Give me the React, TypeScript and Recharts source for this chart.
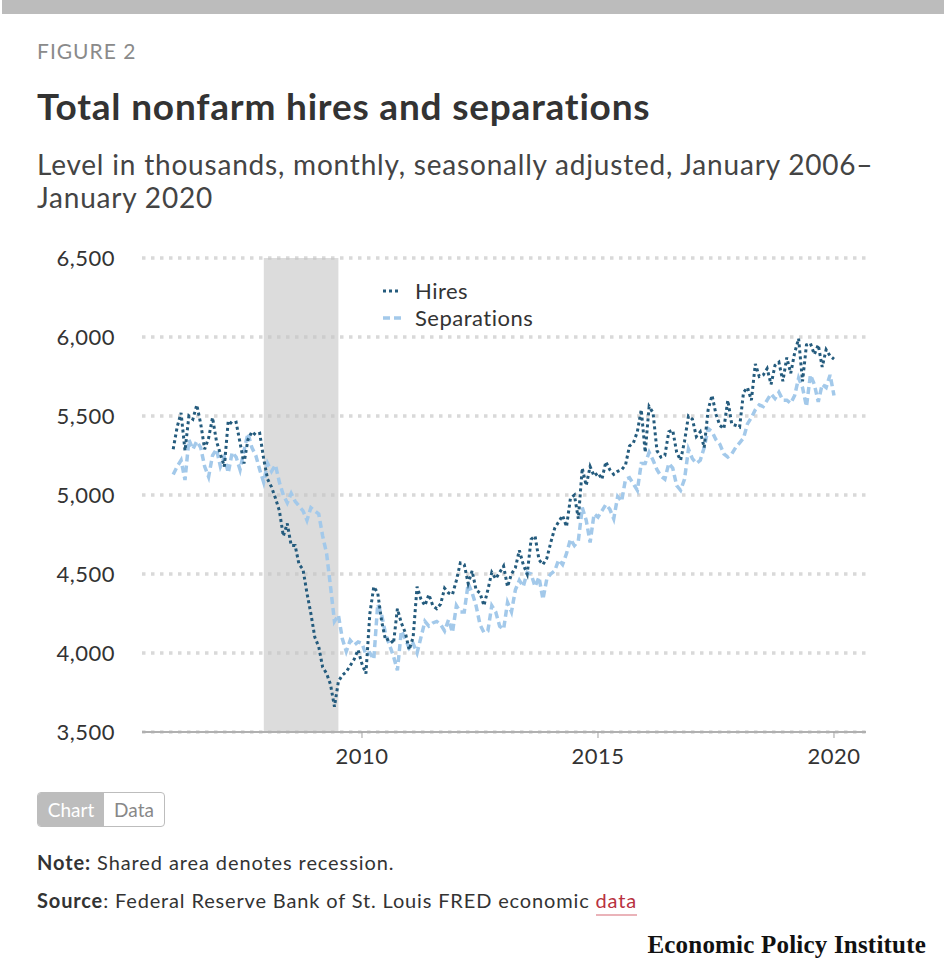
import React from "react";
import {
  LineChart,
  Line,
  XAxis,
  YAxis,
  CartesianGrid,
  ReferenceArea,
  Legend,
} from "recharts";

const FONT = "Lato, 'Open Sans', sans-serif";

// monthly, Jan 2006 .. Jan 2020, thousands
const START_YEAR = 2006;

const HIRES = [
  5290, 5430, 5520, 5280, 5500, 5480, 5570, 5450, 5290, 5360, 5490, 5340, // 2006
  5260, 5180, 5470, 5450, 5460, 5330, 5200, 5350, 5400, 5380, 5390, 5230, // 2007
  5100, 5050, 4980, 4900, 4740, 4820, 4680, 4680, 4560, 4530, 4380, 4250, // 2008
  4100, 4040, 3910, 3870, 3800, 3660, 3820, 3860, 3880, 3920, 3960, 4020, // 2009
  3930, 3870, 4250, 4420, 4380, 4200, 4080, 4090, 4060, 4280, 4190, 4130, // 2010
  4020, 4100, 4420, 4340, 4300, 4370, 4300, 4280, 4310, 4410, 4380, 4370, // 2011
  4460, 4570, 4560, 4440, 4520, 4400, 4380, 4300, 4400, 4510, 4470, 4510, // 2012
  4550, 4420, 4500, 4540, 4650, 4560, 4500, 4720, 4740, 4590, 4560, 4600, // 2013
  4700, 4790, 4830, 4870, 4800, 4980, 5000, 4850, 5170, 5060, 5180, 5120, // 2014
  5140, 5100, 5210, 5160, 5130, 5150, 5160, 5190, 5310, 5330, 5400, 5540, // 2015
  5270, 5560, 5520, 5280, 5240, 5250, 5400, 5410, 5270, 5220, 5340, 5500, // 2016
  5480, 5370, 5400, 5300, 5540, 5630, 5510, 5440, 5420, 5600, 5450, 5440, // 2017
  5430, 5650, 5680, 5600, 5830, 5750, 5760, 5800, 5700, 5820, 5840, 5720, // 2018
  5870, 5770, 5900, 5990, 5720, 5950, 5960, 5890, 5950, 5810, 5920, 5880, // 2019
  5860, // 2020
];

const SEPARATIONS = [
  5130, 5180, 5220, 5095, 5350, 5290, 5340, 5300, 5180, 5115, 5250, 5290, // 2006
  5180, 5240, 5140, 5270, 5240, 5160, 5280, 5390, 5300, 5250, 5160, 5080, // 2007
  5200, 5150, 5190, 5080, 5000, 4950, 5010, 4960, 4930, 4900, 4840, 4920, // 2008
  4900, 4880, 4740, 4630, 4420, 4200, 4240, 4090, 4010, 4080, 4050, 4070, // 2009
  4060, 3990, 4000, 3960, 4310, 4240, 4120, 4050, 3980, 3890, 4140, 4090, // 2010
  4030, 4060, 4000, 4100, 4200, 4170, 4190, 4200, 4180, 4140, 4210, 4130, // 2011
  4300, 4260, 4260, 4440, 4380, 4300, 4180, 4130, 4140, 4300, 4260, 4170, // 2012
  4150, 4320, 4260, 4400, 4460, 4420, 4510, 4500, 4420, 4480, 4340, 4470, // 2013
  4500, 4520, 4590, 4560, 4630, 4720, 4680, 4710, 4920, 4840, 4700, 4880, // 2014
  4860, 4900, 4940, 4910, 4850, 4990, 4960, 5100, 5110, 5070, 5030, 5200, // 2015
  5200, 5270, 5220, 5160, 5120, 5100, 5200, 5170, 5060, 5030, 5100, 5290, // 2016
  5230, 5200, 5220, 5300, 5420, 5400, 5350, 5320, 5260, 5240, 5260, 5300, // 2017
  5330, 5360, 5450, 5490, 5540, 5570, 5560, 5600, 5640, 5610, 5650, 5600, // 2018
  5600, 5580, 5630, 5740, 5680, 5560, 5760, 5700, 5590, 5700, 5680, 5760, // 2019
  5630, // 2020
];

const Y_TICKS = [3500, 4000, 4500, 5000, 5500, 6000, 6500];
const X_TICKS = [2010, 2015, 2020];
const RECESSION = [2007.92, 2009.5];

const HIRES_COLOR = "#245b7d";
const SEP_COLOR = "#a3c9ea";

const data = HIRES.map((h, i) => ({
  t: START_YEAR + i / 12,
  hires: h,
  separations: SEPARATIONS[i],
}));

const tickStyle = { fill: "#333", fontSize: 22, fontFamily: FONT, letterSpacing: 0.5 };

function LegendBox() {
  const row = (label: string, color: string, dash: string, w: number) => (
    <div style={{ display: "flex", alignItems: "center", height: 27 }}>
      <svg width={36} height={10}>
        <line x1={4} y1={5} x2={22} y2={5} stroke={color} strokeWidth={w} strokeDasharray={dash} />
      </svg>
      <span>{label}</span>
    </div>
  );
  return (
    <div style={{ fontFamily: FONT, fontSize: 22, letterSpacing: 0.5, color: "#333" }}>
      {row("Hires", HIRES_COLOR, "3 3", 3)}
      {row("Separations", SEP_COLOR, "7 4", 3.5)}
    </div>
  );
}

export default function App() {
  return (
    <div
      style={{
        position: "absolute",
        left: 0,
        top: 0,
        width: 950,
        height: 977,
        background: "#fff",
        fontFamily: FONT,
        color: "#333",
      }}
    >
      <div style={{ position: "absolute", left: 2, top: 0, width: 942, height: 14, background: "#bcbcbc" }} />
      <div style={{ position: "absolute", left: 37, top: 40, fontSize: 21, lineHeight: "21px", letterSpacing: 1, color: "#8a8a8a" }}>
        FIGURE 2
      </div>
      <div
        style={{
          position: "absolute",
          left: 37,
          top: 87,
          fontSize: 37,
          lineHeight: "37px",
          letterSpacing: 0.8,
          fontWeight: 700,
          color: "#333",
          whiteSpace: "nowrap",
        }}
      >
        Total nonfarm hires and separations
      </div>
      <div
        style={{
          position: "absolute",
          left: 37,
          top: 148,
          width: 900,
          fontSize: 28,
          lineHeight: "33px",
          letterSpacing: 0.8,
          color: "#444",
        }}
      >
        Level in thousands, monthly, seasonally adjusted, January 2006–
        <br />
        January 2020
      </div>

      <div style={{ position: "absolute", left: 0, top: 230 }}>
        <LineChart width={900} height={542} data={data} margin={{ top: 28, right: 34, left: 0, bottom: 0 }}>
          <CartesianGrid
            horizontal
            vertical={false}
            stroke="#d9d9d9"
            strokeWidth={3.5}
            strokeDasharray="3.5 5.5"
          />
          <ReferenceArea
            x1={RECESSION[0]}
            x2={RECESSION[1]}
            y1={3500}
            y2={6500}
            fill="#c4c4c4"
            fillOpacity={0.6}
            stroke="none"
            ifOverflow="hidden"
          />
          <XAxis
            dataKey="t"
            type="number"
            domain={[2005.339, 2020.678]}
            ticks={X_TICKS}
            allowDataOverflow
            height={40}
            axisLine={{ stroke: "#b0b0b0", strokeWidth: 2 }}
            tickLine={{ stroke: "#a0a0a0" }}
            tickSize={6}
            tickMargin={10}
            tick={tickStyle}
          />
          <YAxis
            type="number"
            domain={[3500, 6500]}
            ticks={Y_TICKS}
            width={142}
            axisLine={false}
            tickLine={false}
            tickSize={0}
            tickMargin={27}
            tick={tickStyle}
            tickFormatter={(v: number) => v.toLocaleString("en-US")}
          />
          <Legend
            layout="vertical"
            align="center"
            verticalAlign="middle"
            content={() => <LegendBox />}
            wrapperStyle={{ left: 379, top: 47, width: 220, height: 60 }}
          />
          <Line
            type="linear"
            dataKey="separations"
            stroke={SEP_COLOR}
            strokeWidth={3.5}
            strokeDasharray="7 4"
            dot={false}
            isAnimationActive={false}
          />
          <Line
            type="linear"
            dataKey="hires"
            stroke={HIRES_COLOR}
            strokeWidth={3}
            strokeDasharray="3 3"
            dot={false}
            isAnimationActive={false}
          />
        </LineChart>
      </div>

      <div
        style={{
          position: "absolute",
          left: 37,
          top: 792,
          height: 35,
          width: 128,
          boxSizing: "border-box",
          display: "flex",
          border: "1.5px solid #bdbdbd",
          borderRadius: 4,
          overflow: "hidden",
          fontSize: 19,
        }}
      >
        <div style={{ width: 66, background: "#bdbdbd", color: "#fff", display: "flex", alignItems: "center", justifyContent: "center" }}>
          Chart
        </div>
        <div style={{ flex: 1, color: "#888", display: "flex", alignItems: "center", justifyContent: "center" }}>
          Data
        </div>
      </div>

      <div style={{ position: "absolute", left: 37, top: 852, fontSize: 20, lineHeight: "20px", letterSpacing: 0.9, color: "#333", whiteSpace: "nowrap" }}>
        <b>Note:</b> Shared area denotes recession.
      </div>
      <div style={{ position: "absolute", left: 37, top: 890, fontSize: 20, lineHeight: "20px", letterSpacing: 0.85, color: "#333", whiteSpace: "nowrap" }}>
        <b>Source</b>: Federal Reserve Bank of St. Louis FRED economic{" "}
        <span style={{ color: "#b8323f", borderBottom: "2px solid #eab3b9", paddingBottom: 2 }}>data</span>
      </div>
      <div
        style={{
          position: "absolute",
          right: 24,
          top: 932,
          fontSize: 25,
          lineHeight: "25px",
          fontWeight: 700,
          fontFamily: "'Liberation Serif', 'DejaVu Serif', serif",
          color: "#111",
          letterSpacing: 0.2,
          whiteSpace: "nowrap",
        }}
      >
        Economic Policy Institute
      </div>
    </div>
  );
}
